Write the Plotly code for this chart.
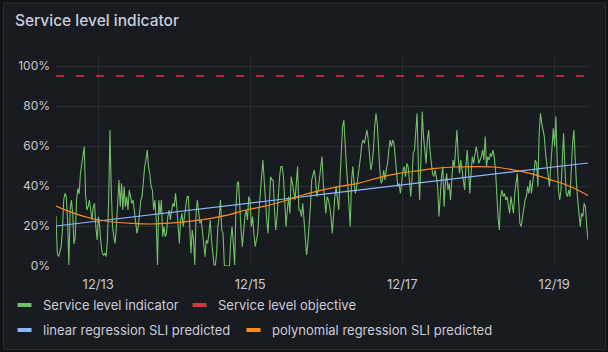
import plotly.graph_objects as go
import pandas as pd

# ---------------- data ----------------
start = pd.Timestamp("2023-12-12 10:40")
end = pd.Timestamp("2023-12-19 10:40")

sli_values = [
    25, 6.3, 4.7, 7, 9.7, 18, 33, 36.3, 34.7, 23, 0.5, 28, 33, 26, 11, 14.7, 33, 38.8, 36, 46, 51, 54.7, 59.7, 36,
    28, 29.7, 33, 28, 23, 29.7, 31.3, 19.7, 13, 24.7, 19.7, 11.3, 6.3, 5.5, 6.3, 4.7, 13, 33, 68, 38, 19.7, 14.7,
    11.3, 19.7, 33, 43, 29.7, 41.3, 28, 39.7, 29.7, 34.7, 28, 38, 34.7, 31.3, 33, 28, 21.3, 16.3, 19.7, 26, 33,
    34.7, 43, 49.7, 53, 58, 49.7, 46, 39.7, 38, 28, 33, 23, 0.5, 33, 26, 33, 14.7,
    19.7, 14.7, 16.3, 24.7, 28, 23, 28, 31.3, 29.7, 36.3, 29.7, 18, 11.3, 23, 26.3, 19.7, 24.7, 28, 34.7, 34.7, 18,
    6.3, 18, 13, 0.5, 26.3, 33, 28, 21.3, 23, 16.3, 9.7, 4.7, 13, 11.3, 16.3, 23, 13, 6.3, 0.5, 0.5, 6.3, 19.7,
    24.7, 33, 18, 16.3, 0.5, 0, 0, 0, 0, 13, 19.7, 11.3, 0.5, 28, 41.3, 42.2, 26.3, 18, 9.7, 18, 24.7, 28, 23,
    34.7, 33, 19.7, 24.7, 16.3, 9.7, 13, 16.3, 28, 39.7, 44.7, 53, 41.3, 29.7, 23, 16.3, 33, 44.7,
    43, 43, 28, 18, 24.7, 36.3, 44.7, 49.7, 49.7, 44.7, 33, 19.7, 28, 34.7, 26.3, 44.7, 41.3, 36.3, 33, 41.3, 49.7,
    28, 28, 24.7, 31.3, 23, 13, 5.5, 11.3, 19.7, 29.7, 43, 46.3, 48, 43, 34.7, 38, 44.7, 51.3, 54.7, 41.3, 31.3,
    26.3, 34.7, 33, 29.7, 24.7, 16.3, 28, 34.7, 39.7, 33, 28, 43, 58, 69.7, 73, 58, 49.7, 41.3, 31.3, 19.7, 43,
    49.7, 41.3, 36.3, 39.7, 46.3, 49.7, 54.7, 61.3, 63, 61.3, 64.7, 68, 63, 54.7, 48, 51.3, 58, 69.7, 76.3, 71.3,
    56.3, 48,
    41.3, 43, 48, 43, 48, 51.3, 58, 63, 59.7, 63, 61.3, 53, 44.7, 39.7, 41.3, 36.3, 41.3, 48, 49.7, 44.7, 51.3,
    49.7, 43, 34.7, 43, 56.3, 58, 66.3, 76.3, 49.7, 33, 53, 77.2, 64.7, 56.3, 51.3, 63, 68, 58, 53, 46.3, 44.7, 48,
    44.7, 39.7, 24.7, 36.3, 44.7, 49.7, 29.7, 41.3, 46.3, 38, 41.3, 33, 44.7, 53, 49.7, 58, 68, 54.7, 46.3, 53, 48,
    43, 38, 49.7, 58, 48, 36.3, 46.3, 54.7, 51.3, 54.7, 59.7, 56.3, 51.3, 53, 54.7, 58, 53, 64.7, 49.7, 54.7,
    53, 56.3, 54.7, 58, 54.7, 48, 33, 24.7, 18, 34.7, 38, 34.7, 36.3, 33, 34.7, 31.3, 26.3, 34.7, 31.3, 26.3, 36.3,
    41.3, 46.3, 33, 21.3, 19.7, 24.7, 28, 33, 34.7, 39.7, 36.3, 43, 36.3, 43, 48, 53, 51.3, 39.7, 66.3, 76.3, 71.3,
    68, 64.7, 56.3, 49.7, 43, 39.7, 49.7, 59.7, 68.8, 59.7, 74.7, 53, 38, 33, 38, 53, 66.3, 49.7, 36.3, 34.7, 38,
    34.7, 49.7, 61.3, 68, 49.7, 41.3, 33, 24.7, 19.7, 26.3, 24.7, 31.3, 29.7, 19.7, 13,
]

poly_hours = list(range(0, 169, 6))
poly_values = [30, 26.2, 23.5, 22, 21.3, 21, 21.4, 22.3, 23.6, 25.4, 28, 29.9, 32.5, 35.5, 37.9,
               39.9, 41.6, 44.2, 46.2, 47.6, 48.8, 49.5, 49.7, 49.5, 48.2, 46.2, 43.2, 40, 35.3]

lin_hours = list(range(0, 169, 12))
lin_values = [20, 22.2, 24.5, 26.8, 29, 31.2, 33.5, 35.8, 38, 40.2, 42.5, 44.8, 47, 49.2, 51.5]

slo_value = 95

x_tick_dates = ["2023-12-13", "2023-12-15", "2023-12-17", "2023-12-19"]
x_tick_labels = ["12/13", "12/15", "12/17", "12/19"]
y_tick_vals = [0, 20, 40, 60, 80, 100]
y_tick_labels = ["0%", "20%", "40%", "60%", "80%", "100%"]

series_names = ["Service level indicator", "Service level objective",
                "linear regression SLI predicted", "polynomial regression SLI predicted"]
series_colors = ["#73bf69", "#e0303e", "#8ab8ff", "#ff8a1f"]

# ---------------- figure ----------------
W, H = 608, 352
ML, MR, MT, MB = 56, 20, 56, 86
PW, PH = W - ML - MR, H - MT - MB

def px(x):
    return (x - ML) / PW

def py(y):
    return (H - MB - y) / PH

sli_times = pd.date_range(start, end, periods=len(sli_values))
poly_times = [start + pd.Timedelta(hours=h) for h in poly_hours]
lin_times = [start + pd.Timedelta(hours=h) for h in lin_hours]

fig = go.Figure()
fig.add_trace(go.Scatter(x=sli_times, y=sli_values, mode="lines", name=series_names[0],
                         line=dict(color=series_colors[0], width=1.1), showlegend=False))
fig.add_trace(go.Scatter(x=[start, end], y=[slo_value, slo_value], mode="lines", name=series_names[1],
                         line=dict(color=series_colors[1], width=1.5, dash="8px,12px"), showlegend=False))
fig.add_trace(go.Scatter(x=lin_times, y=lin_values, mode="lines", name=series_names[2],
                         line=dict(color=series_colors[2], width=1.2), showlegend=False))
fig.add_trace(go.Scatter(x=poly_times, y=poly_values, mode="lines", name=series_names[3],
                         line=dict(color=series_colors[3], width=1.2, shape="spline"), showlegend=False))

tick_font = dict(family="Inter", size=12, color="#c7c8d1")
grid_col = "#2b2e34"

shapes = [
    dict(type="rect", xref="paper", yref="paper", layer="below",
         x0=px(3.5), x1=px(605.5), y0=py(349.5), y1=py(3),
         fillcolor="#181b1f", line=dict(color="#2a2d33", width=1)),
]

# manual legend (Grafana-style)
legend_items = [
    (17.5, 305, 0), (192.5, 305, 1),
    (17.5, 330, 2), (246.5, 330, 3),
]
annotations = [
    dict(text="Service level indicator", x=px(12.5), y=py(20.5), xref="paper", yref="paper",
         xanchor="left", yanchor="middle", showarrow=False,
         font=dict(family="Inter", size=15.5, color="#ccccdc", weight=500)),
]
for lx, ly, i in legend_items:
    shapes.append(dict(type="rect", xref="paper", yref="paper",
                       x0=px(lx), x1=px(lx + 14), y0=py(ly + 2), y1=py(ly - 2),
                       fillcolor=series_colors[i], line=dict(width=0)))
    annotations.append(dict(text=series_names[i], x=px(lx + 23), y=py(ly), xref="paper", yref="paper",
                            xanchor="left", yanchor="middle", showarrow=False,
                            font=dict(family="Inter", size=13, color="#ccccdc")))

fig.update_layout(
    width=W, height=H,
    margin=dict(l=ML, r=MR, t=MT, b=MB, pad=0),
    paper_bgcolor="#111217",
    plot_bgcolor="rgba(0,0,0,0)",
    showlegend=False,
    shapes=shapes,
    annotations=annotations,
    xaxis=dict(range=[start, end], tickvals=pd.to_datetime(x_tick_dates), ticktext=x_tick_labels,
               showgrid=True, gridcolor=grid_col, gridwidth=1, zeroline=False, showline=False,
               ticks="", tickfont=dict(family="Inter", size=13, color="#c7c8d1"),
               ticklabelstandoff=9, fixedrange=True),
    yaxis=dict(range=[0, 105], tickvals=y_tick_vals, ticktext=y_tick_labels,
               showgrid=True, gridcolor=grid_col, gridwidth=1, zeroline=False, showline=False,
               ticks="", tickfont=tick_font, ticklabelstandoff=5, fixedrange=True),
)

fig.write_html("out.html", config={"displayModeBar": False})
